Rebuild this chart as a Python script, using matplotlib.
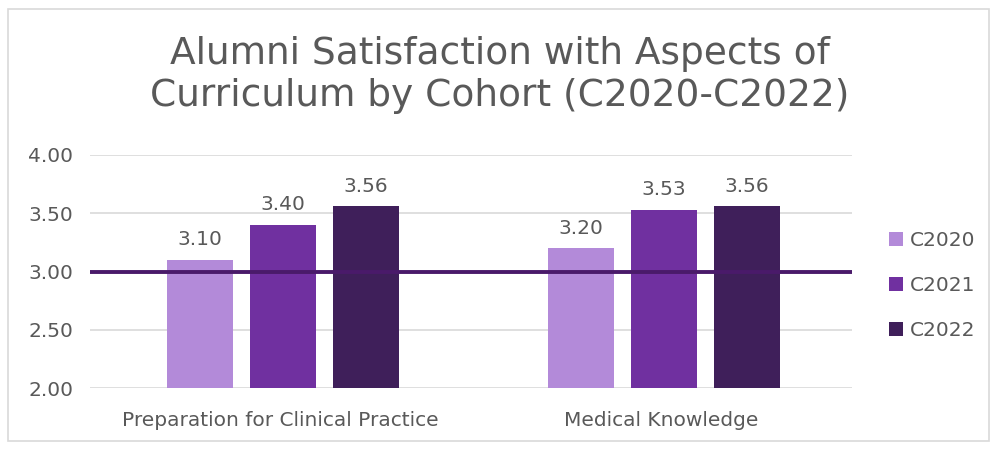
import matplotlib.pyplot as plt
import numpy as np
from matplotlib.patches import Rectangle

plt.rcParams['font.family'] = ['DejaVu Sans']

categories = ["Preparation for Clinical Practice", "Medical Knowledge"]
cohorts = ["C2020", "C2021", "C2022"]
c2020 = [3.10, 3.20]
c2021 = [3.40, 3.53]
c2022 = [3.56, 3.56]
benchmark = 3.0
colors = ["#B38AD9", "#7030A0", "#3F1F5A"]

fig = plt.figure(figsize=(9.99, 4.51), dpi=100)
ax = fig.add_axes([0.090, 0.139, 0.763, 0.518])

x = np.arange(len(categories))
w = 0.174
step = 0.218
text_c = "#595959"
for i, (name, vals) in enumerate(zip(cohorts, [c2020, c2021, c2022])):
    bars = ax.bar(x + (i - 1) * step + 0.006, vals, w, bottom=0, color=colors[i], label=name, zorder=2)
    for b, v in zip(bars, vals):
        ax.text(b.get_x() + b.get_width() / 2, v + 0.09, f"{v:.2f}", ha="center", va="bottom",
                fontsize=14.5, color=text_c)

ax.axhline(benchmark, color="#4A1A6A", lw=2.8, zorder=3)

ax.set_ylim(2, 4)
ax.set_xlim(-0.5, 1.5)
ax.set_yticks([2.0, 2.5, 3.0, 3.5, 4.0])
ax.set_yticklabels([f"{t:.2f}" for t in [2.0, 2.5, 3.0, 3.5, 4.0]])
ax.set_xticks(x)
ax.set_xticklabels(categories, fontsize=15.5)
ax.tick_params(length=0, labelsize=14.5, colors=text_c, pad=16)
ax.tick_params(axis="y", pad=12)
ax.grid(axis="y", color="#D9D9D9", lw=1.2, zorder=0)
for s in ax.spines.values():
    s.set_visible(False)

fig.text(0.5, 0.834, "Alumni Satisfaction with Aspects of\nCurriculum by Cohort (C2020-C2022)",
         ha="center", va="center", fontsize=27, color=text_c, linespacing=1.2)

ax.legend(loc="center left", bbox_to_anchor=(1.025, 0.44), frameon=False, fontsize=14.5,
          handlelength=0.7, handleheight=0.7, handletextpad=0.3, labelspacing=1.3, labelcolor=text_c)

fig.patches.append(Rectangle((0.008, 0.022), 0.982, 0.958, transform=fig.transFigure,
                             fill=False, edgecolor="#D9D9D9", lw=1.2))

fig.savefig("out.png", dpi=100)
